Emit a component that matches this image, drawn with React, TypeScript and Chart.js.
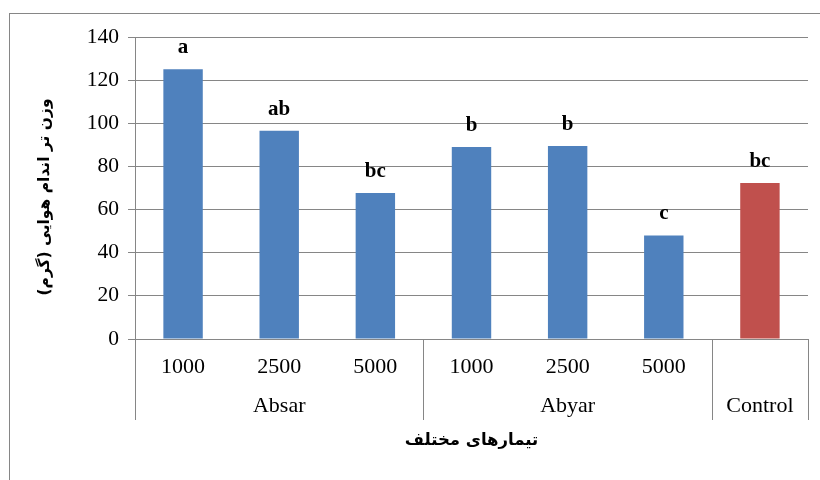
import React, { useEffect, useRef } from "react";
import { Chart, registerables } from "chart.js";
Chart.register(...registerables);

const doses = ["1000", "2500", "5000", "1000", "2500", "5000", ""];
const groups = ["Absar", "Abyar", "Control"];
const groupSizes = [3, 3, 1];
const values = [125, 96.5, 67.7, 89, 89.5, 48, 72.3];
const letters = ["a", "ab", "bc", "b", "b", "c", "bc"];
const barColors = ["#4F81BD", "#4F81BD", "#4F81BD", "#4F81BD", "#4F81BD", "#4F81BD", "#C0504D"];
const yMin = 0;
const yMax = 140;
const yStep = 20;
const yTitle = "وزن تر اندام هوایی (گرم)";
const xTitle = "تیمارهای مختلف";

const LINE = "#868686";
const SERIF = "'Liberation Serif', 'Times New Roman', serif";
const FARSI = "'DejaVu Sans', sans-serif";

const decor = {
  id: "decor",
  afterDraw(chart: any) {
    const ctx = chart.ctx;
    const xs = chart.scales.x;
    const area = chart.chartArea;
    const meta = chart.getDatasetMeta(0);
    ctx.save();
    // outer frame
    ctx.strokeStyle = LINE;
    ctx.lineWidth = 1;
    ctx.strokeRect(9.5, 13.5, 1000, 1000);
    // group separators
    const half = (xs.getPixelForValue(1) - xs.getPixelForValue(0)) / 2;
    const sepBottom = area.bottom + 81;
    let idx = 0;
    const bounds: number[] = [xs.getPixelForValue(0) - half];
    groupSizes.forEach((n) => {
      idx += n;
      bounds.push(xs.getPixelForValue(idx - 1) + half);
    });
    ctx.beginPath();
    bounds.forEach((b) => {
      const x = Math.round(b) + 0.5;
      ctx.moveTo(x, area.bottom);
      ctx.lineTo(x, sepBottom);
    });
    ctx.stroke();
    // group labels
    ctx.fillStyle = "#000";
    ctx.font = `22px ${SERIF}`;
    ctx.textAlign = "center";
    ctx.textBaseline = "middle";
    groups.forEach((g, i) => {
      ctx.fillText(g, (bounds[i] + bounds[i + 1]) / 2, area.bottom + 67);
    });
    // significance letters
    ctx.font = `bold 21px ${SERIF}`;
    ctx.textBaseline = "alphabetic";
    meta.data.forEach((bar: any, i: number) => {
      ctx.fillText(letters[i], bar.x, bar.y - 16);
    });
    // x title
    ctx.font = `bold 16.5px ${FARSI}`;
    ctx.direction = "rtl";
    ctx.textAlign = "center";
    ctx.textBaseline = "middle";
    ctx.fillText(xTitle, (area.left + area.right) / 2, area.bottom + 102);
    // y title
    ctx.font = `bold 15.5px ${FARSI}`;
    ctx.translate(45, (area.top + area.bottom) / 2 + 9);
    ctx.rotate(-Math.PI / 2);
    ctx.fillText(yTitle, 0, 0);
    ctx.restore();
  },
};

export default function App() {
  const ref = useRef<HTMLCanvasElement>(null);
  useEffect(() => {
    const chart = new Chart(ref.current!, {
      type: "bar",
      data: {
        labels: doses,
        datasets: [
          {
            data: values,
            backgroundColor: barColors,
            borderWidth: 0,
            barPercentage: 0.41,
            categoryPercentage: 1,
          },
        ],
      },
      options: {
        animation: false,
        responsive: false,
        devicePixelRatio: 1,
        layout: { padding: { left: 0, top: 37, right: 12, bottom: 0 } },
        plugins: { legend: { display: false }, tooltip: { enabled: false } },
        scales: {
          x: {
            grid: { display: false, drawTicks: false },
            border: { display: true, color: LINE, width: 1 },
            ticks: { color: "#000", font: { family: SERIF, size: 22 }, padding: 15, maxRotation: 0 },
            afterFit: (s: any) => {
              s.height = 141;
            },
          },
          y: {
            min: yMin,
            max: yMax,
            ticks: { stepSize: yStep, color: "#000", font: { family: SERIF, size: 21.5 }, padding: 9 },
            grid: { color: LINE, tickLength: 7, lineWidth: 1 },
            border: { display: true, color: LINE, width: 1 },
            afterFit: (s: any) => {
              s.width = 135;
            },
          },
        },
      },
      plugins: [decor],
    });
    return () => chart.destroy();
  }, []);
  return (
    <div style={{ position: "fixed", left: 0, top: 0, width: 820, height: 480, background: "#fff" }}>
      <canvas ref={ref} width={820} height={480} style={{ width: 820, height: 480, display: "block" }} />
    </div>
  );
}
